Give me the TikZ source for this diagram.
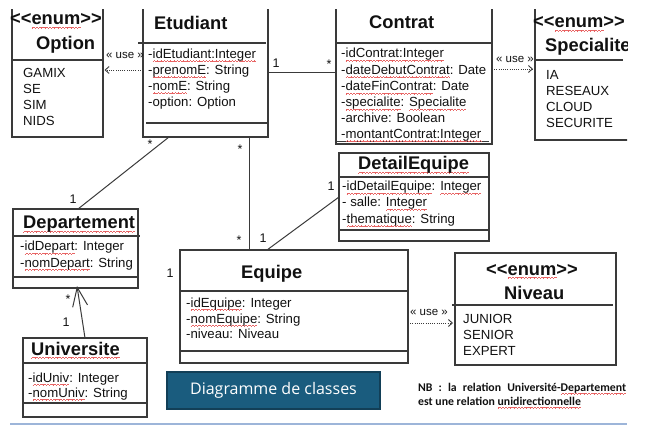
\documentclass[tikz,border=0pt]{standalone}
\usepackage{fontspec}
\setmainfont{Liberation Sans}
\newfontfamily\calib{Carlito}
\newfontfamily\opens{Open Sans}
\usetikzlibrary{arrows.meta,calc}
\definecolor{linec}{HTML}{3A3A3A}
\definecolor{txt}{HTML}{111111}
\definecolor{btnfill}{HTML}{1A5C7E}
\definecolor{btnedge}{HTML}{123F57}
\definecolor{rule}{HTML}{9DB5D9}
\definecolor{wavec}{HTML}{E86464}
\newcommand\waveunit{\hbox{\rule[0pt]{0.8pt}{0.45pt}\rule[0.6pt]{0.8pt}{0.45pt}\rule[1.2pt]{0.8pt}{0.45pt}\rule[0.6pt]{0.8pt}{0.45pt}}}
\newcommand\rw[1]{\leavevmode\setbox0\hbox{#1}\rlap{\raisebox{-3.2pt}[0pt][0pt]{\textcolor{wavec}{\hbox to \wd0{\xleaders\waveunit\hfil}}}}\box0}
\newcommand\enumst{<\kern0pt<\rw{enum}>\kern0pt>}
\tikzset{
  ln/.style={draw=linec, line width=1.1pt},
  box/.style={draw=linec, line width=1.1pt, rectangle, inner sep=0pt, outer sep=0pt, anchor=north west},
  attr/.style={anchor=base west, inner sep=0pt, text=txt, font=\fontsize{13.2}{16}\selectfont},
  ttl/.style={anchor=base west, inner sep=0pt, text=txt, font=\fontsize{18.3}{20}\selectfont\bfseries},
  mult/.style={inner sep=0pt, text=txt, font=\fontsize{12.5}{14}\selectfont},
  uselbl/.style={inner sep=0pt, text=txt, font=\fontsize{11.5}{13}\selectfont},
  usearrow/.style={draw=linec, line width=0.9pt, dash pattern=on 1pt off 1.2pt, -{Straight Barb[length=4pt,width=7pt]}},
  assoc/.style={draw=linec, line width=1pt},
  note/.style={anchor=base west, inner sep=0pt, text=txt, font=\calib\bfseries\fontsize{11.8}{14}\selectfont},
}
\begin{document}
\begin{tikzpicture}[x=1pt,y=-1pt]
\useasboundingbox (0,0) rectangle (647,430);
\clip (0,10) rectangle (627,430);

% ---- boxes
\node[box, minimum width=91pt, minimum height=137pt] (opt) at (12,0) {};
\node[box, minimum width=125pt, minimum height=137pt] (etu) at (143,0) {};
\node[box, minimum width=156pt, minimum height=144pt] (con) at (336,0) {};
\node[box, minimum width=130pt, minimum height=140pt] (spe) at (535,0) {};
\node[box, minimum width=150pt, minimum height=88pt] (det) at (339,153) {};
\node[box, minimum width=125pt, minimum height=79pt] (dep) at (13,209) {};
\node[box, minimum width=228pt, minimum height=113pt] (equ) at (180,250) {};
\node[box, minimum width=124pt, minimum height=79pt] (uni) at (23,338) {};
\node[box, minimum width=161pt, minimum height=112pt] (niv) at (455,253) {};

% ---- separators
\draw[ln] (12,60) -- (103,60);
\draw[ln] (138,43) -- (266,43);
\draw[ln] (146,123) -- (268,123);
\draw[ln] (336,43) -- (492,43);
\draw[ln] (336,141.5) -- (489,141.5);
\draw[ln] (535,60) -- (623,60);
\draw[ln] (339,177) -- (489,177);
\draw[ln] (339,230) -- (489,230);
\draw[ln] (13,236) -- (140,236);
\draw[ln] (13,277) -- (138,277);
\draw[ln] (180,291) -- (408,291);
\draw[ln] (180,351) -- (408,351);
\draw[ln] (23,363) -- (147,363);
\draw[ln] (23,403) -- (147,403);
\draw[ln] (452,305) -- (613,305);

% ---- Option
\node[ttl] (optst) at (10,25) {\enumst};
\node[ttl] (optt) at (36,50) {Option};
\node[attr] (opt1) at (23,78) {GAMIX};
\node[attr] (opt2) at (23,94) {SE};
\node[attr] (opt3) at (23,110) {SIM};
\node[attr] (opt4) at (23,126) {NIDS};

% ---- Etudiant
\node[ttl] (etut) at (154,30) {Etudiant};
\node[attr] (etu1) at (148,58.5) {-\rw{idEtudiant:Integer}};
\node[attr] (etu2) at (148,74.5) {-\rw{prenomE}: String};
\node[attr] (etu3) at (148,90.5) {-\rw{nomE}: String};
\node[attr] (etu4) at (148,106.5) {-option: Option};

% ---- Contrat
\node[ttl] (cont) at (369,29) {Contrat};
\node[attr] (con1) at (341,58) {-\rw{idContrat:Integer}};
\node[attr] (con2) at (341,74.5) {-\rw{dateDebutContrat}: Date};
\node[attr] (con3) at (341,91) {-\rw{dateFinContrat}: Date};
\node[attr] (con4) at (341,107) {-\rw{specialite}: \rw{Specialite}};
\node[attr] (con5) at (341,123) {-archive: Boolean};
\node[attr] (con6) at (341,138.5) {-\rw{montantContrat:Integer}};

% ---- Specialite
\node[ttl] (spest) at (533,28) {\enumst};
\node[ttl] (spet) at (545,52) {Specialite};
\node[attr] (spe1) at (546,80) {IA};
\node[attr] (spe2) at (546,96) {RESEAUX};
\node[attr] (spe3) at (546,112) {CLOUD};
\node[attr] (spe4) at (546,128) {SECURITE};

% ---- DetailEquipe
\node[ttl] (dett) at (358,170) {\rw{DetailEquipe}};
\node[attr] (det1) at (342,191) {-\rw{idDetailEquipe}: \rw{Integer}};
\node[attr] (det2) at (342,207) {- salle: \rw{Integer}};
\node[attr] (det3) at (342,223.5) {-\rw{thematique}: String};

% ---- Departement
\node[ttl] (dept) at (23,229) {\rw{Departement}};
\node[attr] (dep1) at (20,251) {-\rw{idDepart}: Integer};
\node[attr] (dep2) at (20,267) {-\rw{nomDepart}: String};

% ---- Equipe
\node[ttl] (equt) at (241,278) {Equipe};
\node[attr] (equ1) at (186,307) {-\rw{idEquipe}: Integer};
\node[attr] (equ2) at (186,323) {-\rw{nomEquipe}: String};
\node[attr] (equ3) at (186,338) {-niveau: Niveau};

% ---- Universite
\node[ttl] (unit) at (31,355) {\rw{Universite}};
\node[attr] (uni1) at (28,382) {-\rw{idUniv}: Integer};
\node[attr] (uni2) at (28,397) {-\rw{nomUniv}: String};

% ---- Niveau
\node[ttl] (nivst) at (486,275) {\enumst};
\node[ttl] (nivt) at (504,299) {Niveau};
\node[attr] (niv1) at (463,323) {JUNIOR};
\node[attr] (niv2) at (463,339) {SENIOR};
\node[attr] (niv3) at (463,355.5) {EXPERT};

% ---- associations
\draw[assoc] ($(etu.north east)+(0,73)$) -- ($(con.north west)+(0,73)$);
\draw[assoc] ($(etu.south west)+(26,0)$) -- ($(dep.north west)+(65,0)$);
\draw[assoc] ($(etu.south west)+(106,0)$) -- ($(equ.north west)+(69,0)$);
\draw[assoc] ($(det.north west)+(0,44)$) -- ($(equ.north west)+(87,0)$);
\draw[assoc, -{Straight Barb[length=19pt,width=15pt,line width=1pt]}] ($(uni.north west)+(62,0)$) -- ($(dep.south west)+(64,-2)$);

% ---- use dependencies
\draw[usearrow] ($(etu.north west)+(0,70)$) -- ($(opt.north east)+(1.5,70)$);
\draw[usearrow] ($(con.north east)+(0,69)$) -- ($(spe.north west)+(-2,69)$);
\draw[usearrow] ($(equ.north east)+(0,73)$) -- ($(niv.north west)+(-2,70)$);
\node[uselbl] (u1) at (125,55) {« use »};
\node[uselbl] (u2) at (515,59) {« use »};
\node[uselbl] (u3) at (429,312) {« use »};

% ---- multiplicities
\node[mult] (m1) at (276,63) {1};
\node[mult] (m2) at (329,64) {*};
\node[mult] (m3) at (150,144) {*};
\node[mult] (m4) at (73,199) {1};
\node[mult] (m5) at (240,149) {*};
\node[mult] (m6) at (239,240) {*};
\node[mult] (m7) at (263,238) {1};
\node[mult] (m8) at (331,186) {1};
\node[mult] (m9) at (170,273) {1};
\node[mult] (m10) at (68,299) {*};
\node[mult] (m11) at (66,322) {1};

% ---- button
\node[draw=btnedge, line width=1.2pt, fill=btnfill, minimum width=213pt, minimum height=37pt, inner sep=0pt, text=white, font=\opens\fontsize{16}{18}\selectfont] (btn) at (273.5,390.5) {Diagramme de classes};

% ---- note
\node[note] (nb1) at (418,391) {\makebox[208pt][s]{NB : la relation Université-\rw{Departement}}};
\node[note] (nb2) at (418,405) {est une relation \rw{unidirectionnelle}};

% ---- bottom rule
\draw[draw=rule, line width=1.5pt] (10,424) -- (627,424);
\end{tikzpicture}
\end{document}
